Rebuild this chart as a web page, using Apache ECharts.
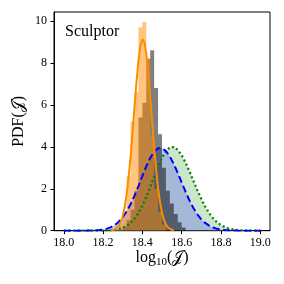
<!DOCTYPE html>
<html><head><meta charset="utf-8">
<script src="https://cdn.jsdelivr.net/npm/echarts@6/dist/echarts.min.js"></script>
<style>html,body{margin:0;padding:0;background:#fff}#c{width:284px;height:284px}</style>
</head><body><div id="c"></div>
<script>
const kdeX = [18.00,18.02,18.04,18.06,18.08,18.10,18.12,18.14,18.16,18.18,18.20,18.22,18.24,18.26,18.28,18.30,18.32,18.34,18.36,18.38,18.40,18.42,18.44,18.46,18.48,18.50,18.52,18.54,18.56,18.58,18.60,18.62,18.64,18.66,18.68,18.70,18.72,18.74,18.76,18.78,18.80,18.82,18.84,18.86,18.88,18.90,18.92,18.94,18.96,18.98,19.00];
const blueKde = [0,0,0.0001,0.0004,0.0008,0.0019,0.004,0.008,0.016,0.031,0.057,0.10,0.17,0.27,0.43,0.64,0.92,1.26,1.67,2.13,2.61,3.07,3.47,3.77,3.93,3.94,3.80,3.54,3.18,2.76,2.30,1.86,1.44,1.08,0.78,0.54,0.37,0.24,0.15,0.089,0.052,0.029,0.016,0.008,0.004,0.002,0.001,0,0,0,0];
const greenKde = [0,0,0,0,0,0.0001,0.0002,0.0005,0.0012,0.0027,0.006,0.012,0.023,0.044,0.081,0.14,0.23,0.38,0.58,0.85,1.19,1.61,2.08,2.58,3.06,3.48,3.80,3.97,3.99,3.86,3.60,3.25,2.83,2.38,1.93,1.52,1.15,0.84,0.59,0.40,0.27,0.17,0.10,0.062,0.035,0.020,0.010,0.005,0.002,0.001,0.0005];
const orangeFitX = [18.24,18.25,18.26,18.27,18.28,18.29,18.30,18.31,18.32,18.33,18.34,18.35,18.36,18.37,18.38,18.39,18.40,18.41,18.42,18.43,18.44,18.45,18.46,18.47,18.48,18.49,18.50,18.51,18.52,18.53,18.54,18.55,18.56];
const orangeFit = [0.014,0.030,0.063,0.124,0.231,0.413,0.70,1.13,1.74,2.54,3.53,4.68,5.91,7.09,8.10,8.81,9.13,8.99,8.43,7.52,6.39,5.17,3.98,2.92,2.03,1.35,0.85,0.51,0.29,0.16,0.083,0.041,0.019];
const greyEdges = [18.30,18.32,18.34,18.36,18.38,18.40,18.42,18.44,18.46,18.48,18.50,18.52,18.54,18.56,18.58,18.60,18.62];
const greyHist = [0.2,0.5,1.0,1.9,5.4,6.1,8.2,8.6,6.8,4.6,3.0,1.9,1.3,0.8,0.4,0.15];
const orangeEdges = [18.24,18.26,18.28,18.30,18.32,18.34,18.36,18.38,18.40,18.42,18.44,18.46,18.48,18.50,18.52];
const orangeHist = [0.05,0.12,0.35,0.9,2.6,5.2,6.6,9.7,9.95,8.2,4.5,2.0,0.9,0.3];
const xTicks = [18.0,18.2,18.4,18.6,18.8,19.0];
const yTicks = [0,2,4,6,8,10];
const panelLabel = 'Sculptor';

function zip(xs, ys){ return ys.map((y,i)=>[xs[i], y]); }
function histPts(edges, h){ const p = h.map((v,i)=>[edges[i], v]); p.push([edges[edges.length-1], 0]); return p; }

const FONT = '"Liberation Serif", "DejaVu Serif", serif';
const noLine = {width:0, opacity:0};
const chart = echarts.init(document.getElementById('c'), null, {renderer:'canvas'});
chart.setOption({
  animation:false,
  backgroundColor:'#fff',
  grid:{left:54, right:14, top:12, bottom:53.3, show:true, borderColor:'#000', borderWidth:1, containLabel:false},
  xAxis:{type:'value', min:17.95, max:19.05,
    name:'{a|log}{s|10}{a|(}{j|𝒥}{a|)}', nameLocation:'middle', nameGap:18, nameMoveOverlap:false,
    nameTextStyle:{rich:{a:{fontFamily:FONT, fontSize:16, color:'#000'}, s:{fontFamily:FONT, fontSize:11, color:'#000', padding:[8,0,0,0]}, j:{fontFamily:FONT, fontSize:16, color:'#000'}}},
    axisLine:{onZero:false, lineStyle:{color:'#000', width:1}},
    axisTick:{customValues:xTicks, length:3.5, lineStyle:{color:'#000'}},
    axisLabel:{customValues:xTicks, margin:6, fontFamily:FONT, fontSize:12, color:'#000', formatter:v=>v.toFixed(1)},
    splitLine:{show:false}},
  yAxis:{type:'value', min:0, max:10.43,
    name:'{a|PDF(}{j|𝒥}{a|)}', nameLocation:'middle', nameGap:27, nameRotate:90, nameMoveOverlap:false,
    nameTextStyle:{rich:{a:{fontFamily:FONT, fontSize:16, color:'#000'}, j:{fontFamily:FONT, fontSize:16, color:'#000'}}},
    axisLine:{lineStyle:{color:'#000', width:1}},
    axisTick:{customValues:yTicks, length:3.5, lineStyle:{color:'#000'}},
    axisLabel:{customValues:yTicks, margin:7, fontFamily:FONT, fontSize:12, color:'#000'},
    splitLine:{show:false}},
  graphic:[{type:'text', left:65, top:24, style:{text:panelLabel, font:'16px ' + FONT, fill:'#000'}}],
  series:[
    {type:'line', silent:true, data:zip(kdeX, greenKde), symbol:'none', lineStyle:noLine, areaStyle:{color:'rgba(0,128,0,0.2)', opacity:1}},
    {type:'line', silent:true, data:zip(kdeX, blueKde), symbol:'none', lineStyle:noLine, areaStyle:{color:'rgba(126,140,226,0.5)', opacity:1}},
    {type:'line', silent:true, data:histPts(greyEdges, greyHist), step:'end', symbol:'none', lineStyle:noLine, areaStyle:{color:'rgba(0,0,0,0.5)', opacity:1}},
    {type:'line', silent:true, data:zip(kdeX, greenKde), symbol:'none', lineStyle:{color:'#008000', width:2.2, type:[2,2.6]}},
    {type:'line', silent:true, data:zip(kdeX, blueKde), symbol:'none', lineStyle:{color:'#0000ff', width:2, type:[7,3.5]}},
    {type:'line', silent:true, data:histPts(orangeEdges, orangeHist), step:'end', symbol:'none', lineStyle:noLine, areaStyle:{color:'rgba(255,140,0,0.5)', opacity:1}},
    {type:'line', silent:true, data:zip(orangeFitX, orangeFit), symbol:'none', lineStyle:{color:'#ff8c00', width:2}}
  ]
});
</script></body></html>
